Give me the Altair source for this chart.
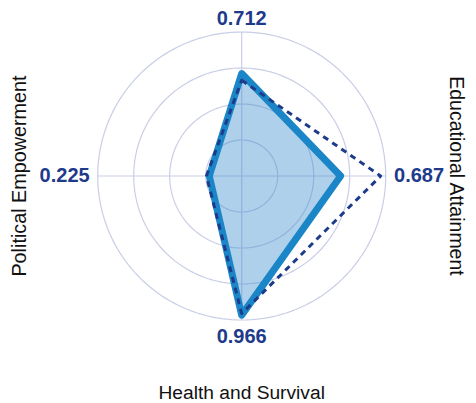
import altair as alt
import pandas as pd

# ---- data ----
axis_titles = ["", "Educational Attainment", "Health and Survival", "Political Empowerment"]
axis_angles_deg = [0, 90, 180, 270]          # clockwise from top
country_scores = [0.712, 0.687, 0.966, 0.225]
benchmark_scores = [0.665, 0.965, 0.955, 0.245]
value_labels = ["0.712", "0.687", "0.966", "0.225"]
ring_levels = [0.25, 0.5, 0.75, 1.0]

# ---- layout ----
PX = 144.0                # pixels per unit radius
W, H = 460, 395
CX, CY = 233.7, 168.0     # center in chart pixels
xs = alt.Scale(domain=[-CX / PX, (W - CX) / PX], nice=False, zero=False)
ys = alt.Scale(domain=[-(H - CY) / PX, CY / PX], nice=False, zero=False)

GRID = "#c9cee6"
SOLID = "#1a86c7"
DASH = "#1d3b8b"
LABEL = "#1e3a8a"
FONT = "Liberation Sans"

df = pd.DataFrame({
    "idx": list(range(len(axis_angles_deg))),
    "angle": axis_angles_deg,
    "country": country_scores,
    "bench": benchmark_scores,
    "label": value_labels,
    "title": axis_titles,
})

base = alt.Chart(df).transform_calculate(
    rad="datum.angle * PI / 180",
).transform_calculate(
    sx="sin(datum.rad)", sy="cos(datum.rad)"
)

X = lambda f: alt.X(f, type="quantitative", scale=xs, axis=None)
Y = lambda f: alt.Y(f, type="quantitative", scale=ys, axis=None)

# grid rings: each ring level traced around the full circle
rings = alt.Chart(pd.DataFrame({"level": ring_levels})).transform_calculate(
    deg="sequence(0, 361, 2)"
).transform_flatten(["deg"]).transform_calculate(
    gx="sin(datum.deg * PI / 180) * datum.level",
    gy="cos(datum.deg * PI / 180) * datum.level",
).mark_line(stroke=GRID, strokeWidth=1.2).encode(
    x=X("gx"), y=Y("gy"), detail="level:N", order="deg:Q"
)

spokes = base.transform_calculate(zero="0").mark_rule(stroke=GRID, strokeWidth=1.2).encode(
    x=X("zero"), y=Y("zero"), x2="sx:Q", y2="sy:Q"
)

country = base.transform_calculate(
    px="datum.sx * datum.country", py="datum.sy * datum.country"
).mark_line(
    interpolate="linear-closed", fill="#3d8fd0", fillOpacity=0.42,
    stroke=SOLID, strokeWidth=7, strokeJoin="round", strokeCap="round"
).encode(x=X("px"), y=Y("py"), order="idx:Q")

bench = base.transform_calculate(
    px="datum.sx * datum.bench", py="datum.sy * datum.bench"
).mark_line(
    interpolate="linear-closed", stroke=DASH, strokeWidth=3,
    strokeDash=[6, 5], strokeJoin="round"
).encode(x=X("px"), y=Y("py"), order="idx:Q")


def value_text(i, r, align, baseline):
    return base.transform_filter(f"datum.idx == {i}").transform_calculate(
        lx=f"datum.sx * {r}", ly=f"datum.sy * {r}"
    ).mark_text(
        align=align, baseline=baseline, font=FONT, fontSize=20,
        fontWeight="bold", color=LABEL
    ).encode(x=X("lx"), y=Y("ly"), text="label:N")


labels = [
    value_text(0, 1.090, "center", "middle"),
    value_text(1, 1.058, "left", "middle"),
    value_text(2, 1.121, "center", "middle"),
    value_text(3, 1.056, "right", "middle"),
]


def title_text(i, r, angle, size):
    return base.transform_filter(f"datum.idx == {i}").transform_calculate(
        tx=f"datum.sx * {r}", ty=f"datum.sy * {r}"
    ).mark_text(
        align="center", baseline="middle", font=FONT, fontSize=size,
        color="#111111", angle=angle
    ).encode(x=X("tx"), y=Y("ty"), text="title:N")


titles = [
    title_text(1, 1.490, 90, 19.5),
    title_text(2, 1.507, 0, 19.2),
    title_text(3, 1.538, 270, 19.8),
]

chart = alt.layer(rings, spokes, country, bench, *labels, *titles).properties(
    width=W, height=H,
    autosize=alt.AutoSizeParams(type="none"),
    padding=0,
).configure_view(stroke=None)

chart.save("out.html", embed_options={"renderer": "svg", "actions": False})
